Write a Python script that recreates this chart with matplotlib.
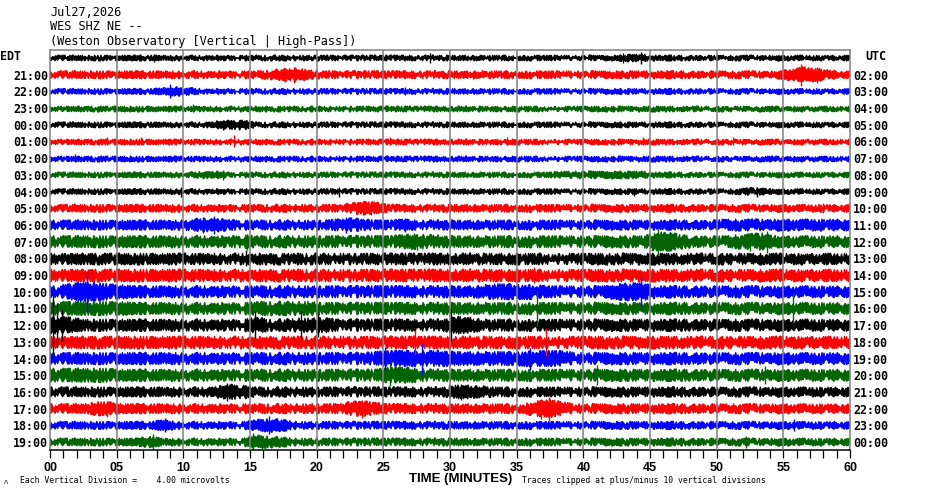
import numpy as np
import matplotlib
matplotlib.use("Agg")
import matplotlib.pyplot as plt
import matplotlib.transforms as mtransforms
from matplotlib import font_manager

# helicorder: 24 one-hour rows, 60 minutes each
edt_labels = ["EDT", "21:00", "22:00", "23:00", "00:00", "01:00", "02:00", "03:00",
              "04:00", "05:00", "06:00", "07:00", "08:00", "09:00", "10:00", "11:00",
              "12:00", "13:00", "14:00", "15:00", "16:00", "17:00", "18:00", "19:00"]
utc_labels = ["UTC", "02:00", "03:00", "04:00", "05:00", "06:00", "07:00", "08:00",
              "09:00", "10:00", "11:00", "12:00", "13:00", "14:00", "15:00", "16:00",
              "17:00", "18:00", "19:00", "20:00", "21:00", "22:00", "23:00", "00:00"]
row_colors = ["#000000", "#ff0000", "#0000ff", "#006400"]

# trace half-width at each minute (hex digits, in px)
envelope = [
    "2222222222 2222222222 2222222222 2222222222 2223322222 2222222222",
    "3333333333 3333334564 3333333333 3333333333 3333333333 3333357643",
    "2222222234 3222222222 2222222222 2222222222 2222222222 2222222222",
    "2222222222 2222222222 2222222222 2222222222 2222222222 2222222222",
    "2222222222 2234422222 2222222222 2222222222 2222222222 2222222222",
    "2222222222 2222222222 2222222222 2222222222 2222222222 2222222222",
    "2222222222 2222222222 2222222222 2222222222 2222222222 2222222222",
    "2222222222 2332222222 2222222222 2222222233 3333322222 2222222222",
    "2222222222 2222222222 2222222222 2222222222 2222222222 2233222222",
    "3333333333 3333333333 3346533333 3333333333 3333333333 3333333333",
    "4444444444 5665444444 4565445444 4444444444 4444444444 5555555555",
    "5555555555 5555655555 5555556765 5555555555 5555598655 5678555555",
    "5555555555 5555555555 5555555555 5555555555 5555555555 5555555555",
    "5555555555 5555555555 5555555555 5555555555 5555555555 5555555555",
    "5798765555 5555555555 5555555555 5567776555 5578855555 5555555555",
    "6666665555 5555566666 5555555555 5555555555 5555555555 5555555555",
    "8755555555 5555575566 7555555555 8755555555 5555555555 5555555555",
    "5555555555 5555555555 5555555555 5555555555 5555555555 5555555555",
    "5555555555 5555555555 5555677777 6666677775 5555555555 5555555555",
    "6666655555 5555555555 5555577655 5555555555 5555555555 5555555555",
    "4444444444 4457644444 4444444444 6654444444 4444444444 4444444444",
    "4446644444 4444444444 4467544444 4444447864 4444444444 4444444444",
    "3333333353 3333356533 3333333333 3333333333 3333333333 3333333333",
    "3333333533 3333365433 3333333333 3333333333 3333333333 3333333333",
]

# isolated spikes: row, minute, half-width (px)
spike_rows = [0, 0, 0, 0, 1, 1, 1, 1, 1, 2, 2, 3, 4, 4, 5, 5, 5, 5, 5, 5, 5,
              6, 7, 8, 8, 8, 8, 9, 9, 9, 10, 10, 10, 10, 11, 11, 11, 11, 11,
              12, 13, 14, 14, 15, 15, 16, 16, 16, 16, 16, 16, 16, 17, 17,
              18, 18, 18, 19, 19, 19, 20, 20, 21, 21, 21, 21, 22, 22, 22,
              23, 23, 23]
spike_minutes = [7.8, 28.5, 43.0, 44.3, 17.6, 18.3, 31.7, 56.3, 57.5, 9.0, 26.6,
                 10.7, 13.0, 14.2, 4.3, 6.8, 13.8, 25.5, 34.3, 44.5, 51.2,
                 1.9, 13.0, 9.8, 21.7, 43.8, 53.0, 23.5, 24.1, 58.0,
                 11.5, 12.3, 22.2, 26.6, 14.8, 27.5, 45.6, 52.5, 53.8,
                 14.7, 36.3, 2.8, 44.3, 36.5, 55.7, 0.2, 0.5, 0.9, 15.4, 18.8,
                 20.1, 30.1, 27.4, 37.2, 25.1, 27.9, 36.0, 25.5, 41.0, 53.6,
                 13.3, 30.8, 4.3, 23.4, 36.8, 37.4, 8.6, 16.4, 55.8,
                 7.7, 15.2, 52.2]
spike_amps = [4, 5, 5, 6, 7, 8, 4, 11, 8, 7, 4, 4, 5, 5, 4, 4, 6, 4, 4, 4, 4,
              4, 5, 5, 5, 4, 5, 7, 7, 5, 8, 9, 8, 7, 8, 8, 13, 9, 11,
              8, 8, 20, 16, 18, 15, 30, 22, 16, 14, 14, 12, 16, 12, 14,
              12, 16, 11, 11, 10, 9, 9, 8, 8, 9, 10, 12, 7, 9, 6,
              8, 9, 6]

row_gap = 16.7
x_mid = np.concatenate(([0.0], np.arange(60) + 0.5, [60.0]))


def pick_font(name, fallback):
    try:
        font_manager.findfont(font_manager.FontProperties(family=name),
                              fallback_to_default=False)
        return name
    except Exception:
        return fallback


sans = pick_font("Liberation Sans", "DejaVu Sans")

fig = plt.figure(figsize=(9.3, 4.94), dpi=100)
ax = fig.add_axes([50 / 930, 1 - 450 / 494, 800 / 930, 400 / 494])

for i, code in enumerate(envelope):
    amp = np.array([int(c, 16) for c in code.replace(" ", "")], dtype=float)
    amp = np.concatenate(([amp[0]], amp, [amp[-1]]))
    base = np.median(amp)
    # solid core for the background noise, full height for the bursts
    half = 0.75 * base + (amp - base)
    c = i * row_gap
    xs = np.concatenate((x_mid, x_mid[::-1]))
    ys = np.concatenate((c + half, (c - half)[::-1]))
    band, = ax.fill(xs, ys, color=row_colors[i % 4], lw=0.8,
                    edgecolor=row_colors[i % 4], zorder=2)
    # ragged seismogram edge
    band.set_sketch_params(scale=0.8 + 0.35 * base, length=0.4, randomness=8)

for r, m, a in zip(spike_rows, spike_minutes, spike_amps):
    c = r * row_gap
    ax.vlines(m, c - a, c + a, color=row_colors[r % 4], lw=1.0, zorder=2)

ax.set_xlim(0, 60)
ax.set_ylim(23 * row_gap + 8, -8)

# grid every 5 minutes
for m in range(5, 60, 5):
    ax.axvline(m, color="#808080", lw=1.1, zorder=3)

for s in ["top", "left", "right"]:
    ax.spines[s].set_color("#808080")
    ax.spines[s].set_linewidth(1.1)
ax.spines["bottom"].set_color("black")
ax.spines["bottom"].set_linewidth(1.1)

ax.set_yticks([])
ax.set_xticks(range(0, 61, 5))
ax.set_xticklabels(["%02d" % m for m in range(0, 61, 5)],
                   fontsize=9, fontweight="bold", family=sans)
ax.set_xticks(range(61), minor=True)
ax.tick_params(axis="x", which="both", direction="out", length=5.5, width=0.9,
               color="black", pad=3)

trans = mtransforms.blended_transform_factory(ax.transAxes, ax.transData)
label_font = dict(family="DejaVu Sans Mono", fontweight="bold", fontsize=8.4)
for i in range(24):
    y = i * row_gap
    if i == 0:
        ax.text(-50 / 800, y - 1.5, edt_labels[i], transform=trans, ha="left",
                va="center", **label_font)
        ax.text(815 / 800, y - 1.5, utc_labels[i], transform=trans,
                ha="left", va="center", **label_font)
    else:
        ax.text(-2 / 800, y + 1.5, edt_labels[i], transform=trans, ha="right",
                va="center", **label_font)
        ax.text(803 / 800, y + 1.5, utc_labels[i], transform=trans, ha="left",
                va="center", **label_font)

head_font = dict(family="DejaVu Sans Mono", fontsize=8.6)
fig.text(50 / 930, 1 - 12 / 494, "Jul27,2026", va="center", **head_font)
fig.text(50 / 930, 1 - 27 / 494, "WES SHZ NE --", va="center", **head_font)
fig.text(50 / 930, 1 - 42 / 494, "(Weston Observatory [Vertical | High-Pass])",
         va="center", **head_font)

fig.text(461 / 930, 1 - 479 / 494, "TIME (MINUTES)", ha="center", va="center",
         fontsize=9.5, fontweight="bold", family=sans)
small_font = dict(family="DejaVu Sans Mono", fontsize=5.9)
fig.text(20 / 930, 1 - 480 / 494, "Each Vertical Division =    4.00 microvolts",
         va="center", **small_font)
fig.text(522 / 930, 1 - 480 / 494,
         "Traces clipped at plus/minus 10 vertical divisions",
         va="center", **small_font)
fig.text(4 / 930, 1 - 482 / 494, "\u039b", va="center", fontsize=4.5)

fig.savefig("out.png", dpi=100)
